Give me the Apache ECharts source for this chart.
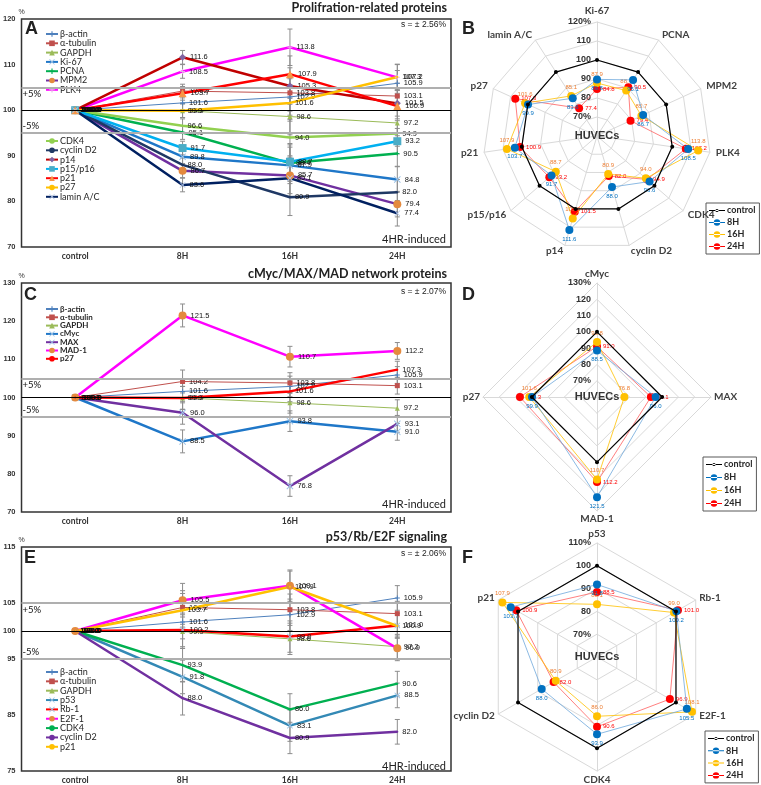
<!DOCTYPE html>
<html><head><meta charset="utf-8">
<script src="https://cdn.jsdelivr.net/npm/echarts@6/dist/echarts.min.js"></script>
<style>html,body{margin:0;padding:0;background:#fff}#c{width:761px;height:785px}</style>
</head><body><div id="c"></div>
<script>
// ---------- DATA ----------
const categories = ['control', '8H', '16H', '24H'];
// Panel A / B : proliferation-related proteins
const betaActin    = [100, 101.6, 102.9, 105.9];
const alphaTubulin = [100, 104.2, 103.8, 103.1];
const gapdh        = [100, 99.9, 98.6, 97.2];
const ki67         = [100, 89.8, 87.9, 84.8];
const pcna         = [100, 95.1, 88.4, 90.5];
const mpm2         = [100, 86.7, 85.7, 79.4];
const plk4         = [100, 108.5, 113.8, 107.2];
const cdk4A        = [100, 96.6, 94.0, 94.9];
const cyclinD2     = [100, 88.0, 80.9, 82.0];
const p14          = [100, 111.6, 105.3, 101.5];
const p15p16       = [100, 91.7, 88.7, 93.2];
const p21          = [100, 103.7, 107.9, 100.9];
const p27          = [100, 99.9, 101.6, 107.3];
const laminAC      = [100, 83.6, 85.1, 77.4];
// Panel C / D : cMyc/MAX/MAD network
const cMyc = [100, 88.5, 93.8, 91.0];
const maxP = [100, 96.0, 76.8, 93.1];
const mad1 = [100, 121.5, 110.7, 112.2];
// Panel E / F : p53/Rb/E2F signaling
const p53   = [100, 91.8, 83.1, 88.5];
const rb1   = [100, 100.2, 99.0, 101.0];
const e2f1  = [100, 105.5, 108.1, 96.9];
const cdk4E = [100, 93.9, 86.0, 90.6];
// error bar half-widths per category
const errA = [0, 1.5, 4.0, 2.8];
const errC = [0, 3.0, 2.7, 2.2];
const errE = [0, 3.0, 2.8, 2.2];
// y tick settings
const yA = {min: 70, max: 120, interval: 10};
const yC = {min: 70, max: 130, interval: 10};
const yE = {min: 75, max: 115, interval: 5, hidden: [80, 90, 110]};
// radar indicators (clockwise from top in picture)
const radarB = ['Ki-67', 'PCNA', 'MPM2', 'PLK4', 'CDK4', 'cyclin D2', 'p14', 'p15/p16', 'p21', 'p27', 'lamin A/C'];
const radarBData = [ki67, pcna, mpm2, plk4, cdk4A, cyclinD2, p14, p15p16, p21, p27, laminAC];
const radarD = ['cMyc', 'MAX', 'MAD-1', 'p27'];
const radarDData = [cMyc, maxP, mad1, p27];
const radarF = ['p53', 'Rb-1', 'E2F-1', 'CDK4', 'cyclin D2', 'p21'];
const radarFData = [p53, rb1, e2f1, cdk4E, cyclinD2, p21];
const radarMin = 60;
const radarMax = [120, 130, 110];
const timeNames = ['control', '8H', '16H', '24H'];

// ---------- HELPERS ----------
const ZW = '\u200B';
const PLUS = 'path://M4,0H6V4H10V6H6V10H4V6H0V4H4Z';
const CROSS = 'path://M1,0L5,4L9,0L10,1L6,5L10,9L9,10L5,6L1,10L0,9L4,5L0,1Z';
const LBL = {show: true, position: 'right', distance: 4, fontSize: 7.5, color: '#111', fontFamily: 'Liberation Sans',
  formatter: p => Number(p.value).toFixed(1)};

function ln(name, data, gi, color, w, sym, ss, symColor, z) {
  return {type: 'line', name, data, xAxisIndex: gi, yAxisIndex: gi, z: z || 3,
    lineStyle: {color, width: w}, itemStyle: {color: symColor || color},
    symbol: sym || 'circle', symbolSize: ss == null ? 2 : ss, showSymbol: true,
    label: LBL, emphasis: {disabled: true}, animation: false};
}
function refLines(gi) {
  const lab = {show: true, color: '#111', fontSize: 9.5, fontFamily: 'Lato', distance: [1, 2]};
  return {type: 'line', name: 'ref' + gi, data: [null, null, null, null], xAxisIndex: gi, yAxisIndex: gi, z: 1,
    symbol: 'none', silent: true, animation: false,
    markLine: {silent: true, symbol: 'none', animation: false,
      data: [
        {yAxis: 105, lineStyle: {color: '#AFAFAF', width: 1.8, type: 'solid'},
          label: Object.assign({}, lab, {formatter: '+5%', position: 'insideStartBottom'})},
        {yAxis: 100, lineStyle: {color: '#000', width: 1.1, type: 'solid'}, label: {show: false}},
        {yAxis: 95, lineStyle: {color: '#AFAFAF', width: 1.8, type: 'solid'},
          label: Object.assign({}, lab, {formatter: '-5%', position: 'insideStartTop'})}
      ]}};
}
function errSeries(gi, arrays, err) {
  const data = [];
  arrays.forEach(arr => arr.forEach((v, i) => { if (err[i] > 0) data.push([i, v, err[i]]); }));
  return {type: 'custom', xAxisIndex: gi, yAxisIndex: gi, silent: true, z: 2, animation: false,
    encode: {x: 0, y: 1}, data,
    renderItem: (params, api) => {
      const x = api.value(0), v = api.value(1), e = api.value(2);
      const t = api.coord([x, v + e]), b = api.coord([x, v - e]);
      const w = 2.5, st = {stroke: '#8C8C8C', lineWidth: 1};
      return {type: 'group', children: [
        {type: 'line', shape: {x1: t[0], y1: t[1], x2: b[0], y2: b[1]}, style: st},
        {type: 'line', shape: {x1: t[0] - w, y1: t[1], x2: t[0] + w, y2: t[1]}, style: st},
        {type: 'line', shape: {x1: b[0] - w, y1: b[1], x2: b[0] + w, y2: b[1]}, style: st}
      ]};
    }};
}
function lgd(names, left, top, fs, spacing, bold) {
  return {data: names, orient: 'vertical', left, top, padding: 0, itemWidth: 12, itemHeight: 7,
    itemGap: spacing - fs, selectedMode: false,
    textStyle: {fontSize: fs, lineHeight: fs, color: '#262626', fontFamily: 'Lato',
      fontWeight: bold ? 'bold' : 'normal', padding: [0, 0, 0, -3]},
    formatter: n => n.replace(/\u200B/g, '')};
}
const ICON_BIG = 'path://M10,0H10.01V0.01H10Z M10,9.99H10.01V10H10Z M0,4.4H20V5.6H0Z M14,5A4,4 0 1 0 6,5A4,4 0 1 0 14,5Z';
const ICON_SMALL = 'path://M10,0H10.01V0.01H10Z M10,9.99H10.01V10H10Z M0,4.4H20V5.6H0Z M12,5A2,2 0 1 0 8,5A2,2 0 1 0 12,5Z';
function radarLegend(left, top, gap) {
  return {data: timeNames.map((n, i) => ({name: n, icon: i === 0 ? ICON_SMALL : ICON_BIG})),
    orient: 'vertical', left, top, padding: [3, 4, 3, 3], itemWidth: 16, itemHeight: 8, itemGap: gap,
    borderColor: '#595959', borderWidth: 1, selectedMode: false,
    textStyle: {fontSize: 9, lineHeight: 9, fontWeight: 'bold', color: '#262626', fontFamily: 'Lato', padding: [0, 0, 0, -3]}};
}
function ccw(arr) { return [arr[0]].concat(arr.slice(1).reverse()); }
function radarComp(names, center, max, split, gap) {
  const ind = ccw(names).map((n, i) => {
    const o = {name: n, min: radarMin, max};
    if (i === 0) o.axisLabel = {show: true, color: '#333', fontSize: 9, fontWeight: 'bold', fontFamily: 'Liberation Sans', margin: 6,
      formatter: v => (v === radarMin ? '' : (v === max || v === 70 ? v + '%' : String(v)))};
    return o;
  });
  return {center, radius: 114, startAngle: 90, shape: 'polygon', splitNumber: split, indicator: ind,
    axisName: {color: '#404040', fontSize: 10, fontWeight: 'bold', fontFamily: 'Lato'}, nameGap: gap,
    splitLine: {lineStyle: {color: '#D9D9D9', width: 1}}, splitArea: {show: false},
    axisLine: {lineStyle: {color: '#D9D9D9'}}, axisTick: {show: false}, axisLabel: {show: false}};
}
const RCOL = [
  {line: '#000', dot: '#000', lab: '#000', size: 4, w: 1.2},
  {line: '#6FA8DC', dot: '#0070C0', lab: '#0070C0', size: 8, w: 0.8, pos: 'bottom'},
  {line: '#FFC000', dot: '#FFC000', lab: '#ED7D31', size: 8, w: 0.8, pos: 'top'},
  {line: '#FF6060', dot: '#FF0000', lab: '#FF0000', size: 8, w: 0.8, pos: 'right'}
];
function radarSeries(ri, arrs) {
  const ordered = ccw(arrs);
  return timeNames.map((n, t) => {
    const c = RCOL[t];
    return {type: 'radar', radarIndex: ri, name: n, symbol: 'circle', symbolSize: c.size, z: t === 0 ? 6 : 5 - t * 0.1,
      lineStyle: {color: c.line, width: c.w}, itemStyle: {color: c.dot}, emphasis: {disabled: true}, animation: false,
      label: t === 0 ? {show: false} : {show: true, position: c.pos, distance: 2, fontSize: 6, color: c.lab, fontFamily: 'Liberation Sans',
        formatter: p => Number(p.value).toFixed(1)},
      data: [{name: n, value: ordered.map(a => a[t])}]};
  });
}
function txt(text, x, y, font, align, fill) {
  return {type: 'text', x, y, silent: true, z: 100,
    style: {text, font, textAlign: align || 'left', align: align || 'left', textVerticalAlign: 'middle', verticalAlign: 'middle', fill: fill || '#222'}};
}
const gridBase = {show: true, borderColor: '#333', borderWidth: 1.5, backgroundColor: 'transparent', left: 21, width: 430};
const xBase = gi => ({gridIndex: gi, type: 'category', data: categories, boundaryGap: true,
  axisLine: {show: false}, axisTick: {show: false},
  axisLabel: {fontSize: 8.5, fontWeight: 'bold', color: '#333', margin: 5, fontFamily: 'Lato'}});
const yBase = (gi, cfg) => ({gridIndex: gi, type: 'value', min: cfg.min, max: cfg.max, interval: cfg.interval,
  axisLine: {show: false}, axisTick: {show: false}, splitLine: {show: false},
  axisLabel: {fontSize: 7.5, fontWeight: 'bold', color: '#333', margin: 6, fontFamily: 'Liberation Sans',
    formatter: v => (cfg.hidden && cfg.hidden.indexOf(v) >= 0 ? '' : String(v))},
  name: '%', nameLocation: 'end', nameGap: 3, nameTextStyle: {fontSize: 7, color: '#333', align: 'left', padding: [0, 0, 0, -3]}});

// ---------- SERIES ----------
const sA = [
  refLines(0),
  ln('β-actin', betaActin, 0, '#4F81BD', 1, PLUS, 5, '#4F81BD', 3),
  ln('α-tubulin', alphaTubulin, 0, '#C0504D', 1, 'rect', 5, '#C0504D', 3),
  ln('GAPDH', gapdh, 0, '#9BBB59', 1, 'triangle', 5, '#9BBB59', 3),
  ln('Ki-67', ki67, 0, '#1F77C8', 2.5, CROSS, 7, '#9DC3E6', 4),
  ln('PCNA', pcna, 0, '#00B050', 2.5, PLUS, 4, '#00B050', 4),
  ln('MPM2', mpm2, 0, '#7030A0', 2.5, 'circle', 8, '#E48A3E', 4),
  ln('PLK4', plk4, 0, '#FF00FF', 2.5, PLUS, 5, '#E6B0E6', 4),
  ln('CDK4', cdk4A, 0, '#92D050', 2.5, 'circle', 2, '#92D050', 4),
  ln('cyclin D2', cyclinD2, 0, '#1F3864', 2.5, 'circle', 2, '#1F3864', 4),
  ln('p14', p14, 0, '#C00000', 2.5, 'diamond', 7, '#8064A2', 4),
  ln('p15/p16', p15p16, 0, '#00B0F0', 2.5, 'rect', 8, '#4BACC6', 4),
  ln('p21', p21, 0, '#FF0000', 2.5, 'triangle', 8, '#F79646', 4),
  ln('p27', p27, 0, '#FFC000', 2.5, 'circle', 2, '#FFC000', 4),
  ln('lamin A/C', laminAC, 0, '#002060', 2.5, CROSS, 6, '#B4C7E7', 4),
  errSeries(0, [betaActin, alphaTubulin, gapdh, ki67, pcna, mpm2, plk4, cdk4A, cyclinD2, p14, p15p16, p21, p27, laminAC], errA)
];
const sC = [
  refLines(1),
  ln('β-actin', betaActin, 1, '#4F81BD', 1, PLUS, 5, '#4F81BD', 3),
  ln('α-tubulin', alphaTubulin, 1, '#C0504D', 1, 'rect', 5, '#C0504D', 3),
  ln('GAPDH', gapdh, 1, '#9BBB59', 1, 'triangle', 5, '#9BBB59', 3),
  ln('cMyc', cMyc, 1, '#1F77C8', 2.5, CROSS, 7, '#9DC3E6', 4),
  ln('MAX', maxP, 1, '#7030A0', 2.5, CROSS, 7, '#9DC3E6', 4),
  ln('MAD-1', mad1, 1, '#FF00FF', 2.5, 'circle', 8, '#E48A3E', 4),
  ln('p27' + ZW, p27, 1, '#FF0000', 2.5, 'circle', 2, '#FF0000', 4),
  errSeries(1, [betaActin, alphaTubulin, gapdh, cMyc, maxP, mad1, p27], errC)
];
const sE = [
  refLines(2),
  ln('β-actin', betaActin, 2, '#4F81BD', 1, PLUS, 5, '#4F81BD', 3),
  ln('α-tubulin', alphaTubulin, 2, '#C0504D', 1, 'rect', 5, '#C0504D', 3),
  ln('GAPDH', gapdh, 2, '#9BBB59', 1, 'triangle', 5, '#9BBB59', 3),
  ln('p53', p53, 2, '#3389B5', 2.5, CROSS, 6, '#9DC3E6', 4),
  ln('Rb-1', rb1, 2, '#FF0000', 2.5, CROSS, 6, '#9DC3E6', 4),
  ln('E2F-1', e2f1, 2, '#FF00FF', 2.5, 'circle', 8, '#E48A3E', 4),
  ln('CDK4' + ZW, cdk4E, 2, '#00B050', 2.5, 'circle', 2, '#00B050', 4),
  ln('cyclin D2' + ZW, cyclinD2, 2, '#7030A0', 2.5, 'circle', 2, '#7030A0', 4),
  ln('p21' + ZW, p21, 2, '#FFC000', 2.5, 'circle', 2, '#FFC000', 4),
  errSeries(2, [betaActin, alphaTubulin, gapdh, p53, rb1, e2f1, cdk4E, cyclinD2, p21], errE)
];

const option = {
  backgroundColor: '#fff',
  animation: false,
  grid: [
    Object.assign({}, gridBase, {top: 19, height: 228}),
    Object.assign({}, gridBase, {top: 283, height: 229}),
    Object.assign({}, gridBase, {top: 547, height: 227})
  ],
  xAxis: [xBase(0), xBase(1), xBase(2)],
  yAxis: [yBase(0, yA), yBase(1, yC), yBase(2, yE)],
  radar: [
    radarComp(radarB, [597, 136], radarMax[0], 6, 6),
    radarComp(radarD, [597, 397], radarMax[1], 7, 3),
    radarComp(radarF, [597, 657], radarMax[2], 5, 4)
  ],
  legend: [
    lgd(['β-actin', 'α-tubulin', 'GAPDH', 'Ki-67', 'PCNA', 'MPM2', 'PLK4'], 45, 29.5, 9, 9.3, false),
    lgd(['CDK4', 'cyclin D2', 'p14', 'p15/p16', 'p21', 'p27', 'lamin A/C'], 45, 136.5, 9, 9.3, false),
    lgd(['β-actin', 'α-tubulin', 'GAPDH', 'cMyc', 'MAX', 'MAD-1', 'p27' + ZW], 45, 305, 8, 8.3, true),
    lgd(['β-actin', 'α-tubulin', 'GAPDH', 'p53', 'Rb-1', 'E2F-1', 'CDK4' + ZW, 'cyclin D2' + ZW, 'p21' + ZW], 45, 667.5, 9, 9.35, false),
    radarLegend(706, 203, 3),
    radarLegend(703, 457, 4),
    radarLegend(705, 731, 3.3)
  ],
  series: [].concat(sA, sC, sE,
    radarSeries(0, radarBData), radarSeries(1, radarDData), radarSeries(2, radarFData)),
  graphic: [
    txt('Prolifration-related proteins', 447, 8, 'bold 12.5px Lato', 'right'),
    txt('cMyc/MAX/MAD network proteins', 447, 274, 'bold 12.5px Lato', 'right'),
    txt('p53/Rb/E2F signaling', 447, 537, 'bold 12.5px Lato', 'right'),
    txt('A', 25, 29, 'bold 18px "Liberation Sans"'),
    txt('C', 24, 295, 'bold 18px "Liberation Sans"'),
    txt('E', 24, 558, 'bold 18px "Liberation Sans"'),
    txt('B', 462, 29, 'bold 18px "Liberation Sans"'),
    txt('D', 462, 295, 'bold 18px "Liberation Sans"'),
    txt('F', 462, 558, 'bold 18px "Liberation Sans"'),
    txt('s = ± 2.56%', 446, 25, '8.5px "Liberation Sans"', 'right'),
    txt('s = ± 2.07%', 446, 292, '8.5px "Liberation Sans"', 'right'),
    txt('s = ± 2.06%', 446, 554, '8.5px "Liberation Sans"', 'right'),
    txt('4HR-induced', 446, 239, '11px Lato', 'right'),
    txt('4HR-induced', 446, 504, '11px Lato', 'right'),
    txt('4HR-induced', 446, 766, '11px Lato', 'right'),
    txt('HUVECs', 597, 136, 'bold 11px "Liberation Sans"', 'center', '#333'),
    txt('HUVECs', 597, 397, 'bold 11px "Liberation Sans"', 'center', '#333'),
    txt('HUVECs', 597, 657, 'bold 11px "Liberation Sans"', 'center', '#333')
  ]
};
const chart = echarts.init(document.getElementById('c'), null, {renderer: 'canvas', width: 761, height: 785});
chart.setOption(option);
</script>
</body></html>
